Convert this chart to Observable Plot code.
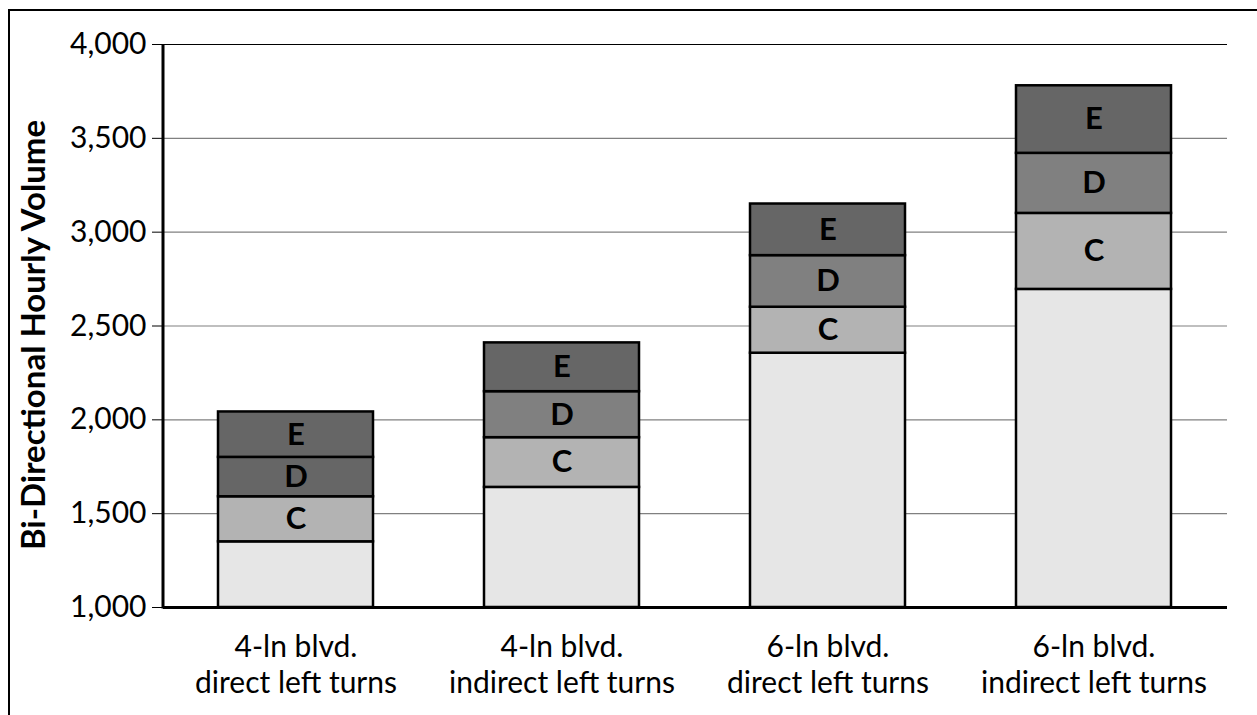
<!DOCTYPE html>
<html>
<head>
<meta charset="utf-8">
<script src="https://cdn.jsdelivr.net/npm/d3@7"></script>
<script src="https://cdn.jsdelivr.net/npm/@observablehq/plot@0.6"></script>
<style>
  html, body { margin: 0; padding: 0; background: #fff; }
  #wrap { position: relative; width: 1257px; height: 715px; overflow: hidden; background: #fff; }
  #frame { position: absolute; left: 8px; top: 9px; width: 1400px; height: 900px; border-top: 2px solid #000; border-left: 2px solid #000; }
  #ytitle { position: absolute; left: 32px; top: 335px; transform: translate(-50%, -50%) rotate(-90deg); white-space: nowrap; font: 700 33px Lato, sans-serif; color: #000; }
  #chart { position: absolute; left: 0; top: 0; }
</style>
</head>
<body>
<div id="wrap">
  <div id="frame"></div>
  <div id="chart"></div>
  <div id="ytitle">Bi-Directional Hourly Volume</div>
</div>
<script>
const categories = [
  "4-ln blvd.\ndirect left turns",
  "4-ln blvd.\nindirect left turns",
  "6-ln blvd.\ndirect left turns",
  "6-ln blvd.\nindirect left turns"
];
const baseTop = [1350, 1640, 2355, 2695];
const cTop = [1590, 1905, 2600, 3100];
const dTop = [1800, 2150, 2875, 3420];
const eTop = [2042, 2410, 3150, 3780];
const yFloor = 1000;
const yTicks = [1000, 1500, 2000, 2500, 3000, 3500, 4000];
const levels = ["base", "C", "D", "E"];
const shades = ["#e6e6e6", "#b3b3b3", "#808080", "#666666"];
// in the reference, the D segment of the first bar is drawn in the darker E shade
const darkD = [categories[0]];

const segments = [];
categories.forEach((cat, i) => {
  const tops = [baseTop[i], cTop[i], dTop[i], eTop[i]];
  let prev = yFloor;
  levels.forEach((lev, j) => {
    segments.push({
      cat, level: lev, y1: prev, y2: tops[j],
      shade: (lev === "D" && darkD.includes(cat)) ? "E" : lev
    });
    prev = tops[j];
  });
});

const yAxisLine = (index, scales, values, dimensions) => {
  const x = dimensions.marginLeft;
  const g = d3.create("svg:line")
    .attr("x1", x).attr("x2", x)
    .attr("y1", scales.y(yTicks[yTicks.length - 1]))
    .attr("y2", scales.y(yFloor) + 1.5)
    .attr("stroke", "#000").attr("stroke-width", 3);
  return g.node();
};

const chart = Plot.plot({
  width: 1257,
  height: 715,
  marginLeft: 163,
  marginRight: 30,
  marginTop: 44,
  marginBottom: 108,
  style: { fontFamily: "Lato, sans-serif", color: "#000", background: "transparent" },
  x: { domain: categories, paddingInner: 0.417, paddingOuter: 0.207, align: 0.5 },
  y: { domain: [yFloor, 4000] },
  color: { type: "categorical", domain: levels, range: shades },
  marks: [
    Plot.ruleY(yTicks.filter(d => d > yFloor && d < 4000), { stroke: "#808080", strokeWidth: 1.2 }),
    Plot.ruleY([4000], { stroke: "#000", strokeWidth: 1.2 }),
    Plot.barY(segments, { x: "cat", y1: "y1", y2: "y2", fill: "shade", stroke: "#000", strokeWidth: 2.5 }),
    Plot.text(segments.filter(d => d.level !== "base"), {
      x: "cat", y: d => (d.y1 + d.y2) / 2, text: "level",
      fontWeight: "bold", fontSize: 31, fill: "#000"
    }),
    Plot.ruleY([yFloor], { stroke: "#000", strokeWidth: 3 }),
    yAxisLine,
    Plot.axisY({
      ticks: yTicks, tickSize: 11, tickPadding: 6, tickFormat: d3.format(","),
      fontSize: 30, label: null, stroke: "#000"
    }),
    Plot.axisX({
      tickSize: 0, tickPadding: 25, fontSize: 30, lineHeight: 1.17, label: null
    })
  ]
});
document.getElementById("chart").appendChild(chart);
</script>
</body>
</html>
